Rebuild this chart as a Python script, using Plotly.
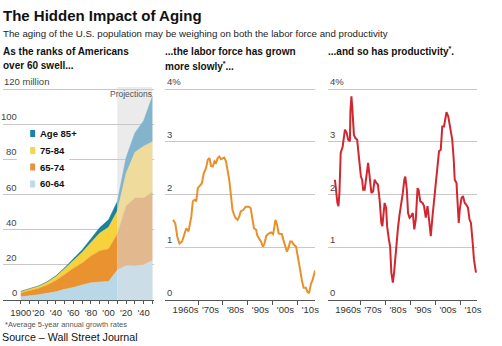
import plotly.graph_objects as go

# ---------------- data ----------------
years_hist = [1900, 1910, 1920, 1930, 1940, 1950, 1960, 1970, 1980, 1990, 2000, 2010]
hist_60_64 = [1.8, 2.3, 3.0, 3.8, 4.7, 6.1, 7.1, 8.6, 9.8, 10.3, 10.5, 17.0]
hist_65_74 = [2.2, 2.8, 3.5, 4.7, 6.4, 8.4, 11.0, 12.4, 15.2, 17.7, 18.5, 20.5]
hist_75_84 = [0.8, 1.0, 1.3, 1.6, 2.3, 3.3, 4.6, 6.1, 7.7, 10.1, 12.4, 13.1]
hist_85p = [0.12, 0.17, 0.21, 0.27, 0.37, 0.58, 0.93, 1.5, 2.2, 3.1, 4.2, 5.5]

years_proj = [2010, 2020, 2030, 2040, 2050]
proj_60_64 = [17.0, 19.5, 19.3, 20.0, 22.5]
proj_65_74 = [20.5, 34.0, 38.7, 38.0, 39.0]
proj_75_84 = [13.1, 18.5, 26.0, 29.5, 28.5]
proj_85p = [5.5, 9.0, 11.0, 14.5, 26.0]

age_groups = ["60-64", "65-74", "75-84", "Age 85+"]

pop_xticks = list(range(1900, 2051, 10))
pop_xlabels = ["1900", "", "'20", "", "'40", "", "'60", "", "'80", "", "'00", "", "'20", "", "'40", ""]
pop_yticks = [0, 20, 40, 60, 80, 100, 120]
pop_ylabels = ["0", "20", "40", "60", "80", "100", "120 million"]

labor_years = [1960.0, 1960.9, 1961.7, 1962.6, 1963.6, 1964.6, 1965.3, 1966.2, 1967.3, 1967.9,
               1968.6, 1969.3, 1969.9, 1970.6, 1971.5, 1972.3, 1973.2, 1973.9, 1974.6, 1975.2,
               1975.9, 1976.6, 1977.2, 1977.9, 1978.5, 1979.2, 1980.5, 1981.2, 1981.8, 1982.5,
               1983.1, 1983.8, 1984.5, 1985.1, 1985.8, 1986.5, 1987.1, 1988.2, 1989.1, 1990.4,
               1991.1, 1991.7, 1992.4, 1993.3, 1993.7, 1994.4, 1995.2, 1996.0, 1996.6, 1997.4,
               1998.3, 1999.3, 2000.1, 2000.6, 2001.0, 2001.7, 2002.3, 2003.0, 2003.6, 2004.2,
               2004.9, 2005.6, 2006.2, 2006.9, 2007.6, 2008.2, 2009.3, 2010.0, 2010.7, 2011.6,
               2012.3, 2013.2, 2013.8, 2014.5, 2015.2, 2015.9, 2016.9]
labor_growth = [1.52, 1.45, 1.20, 1.07, 1.11, 1.26, 1.36, 1.30, 1.58, 1.87,
                1.90, 1.87, 2.12, 2.16, 2.21, 2.40, 2.50, 2.66, 2.69, 2.54,
                2.53, 2.63, 2.60, 2.69, 2.72, 2.67, 2.70, 2.63, 2.47, 2.28,
                2.02, 1.71, 1.61, 1.55, 1.52, 1.58, 1.68, 1.71, 1.77, 1.77,
                1.74, 1.52, 1.36, 1.33, 1.23, 1.17, 1.11, 1.01, 1.07, 1.22,
                1.26, 1.28, 1.25, 1.39, 1.52, 1.42, 1.26, 1.25, 1.25, 1.14,
                1.02, 0.92, 0.98, 1.11, 1.11, 1.06, 1.01, 0.85, 0.63, 0.38,
                0.23, 0.23, 0.16, 0.13, 0.30, 0.38, 0.56]

prod_years = [1959.7, 1960.1, 1960.7, 1961.1, 1961.5, 1962.0, 1962.8, 1963.7, 1964.4, 1965.0,
              1965.7, 1965.9, 1966.3, 1966.7, 1967.3, 1967.9, 1968.6, 1969.0, 1969.7, 1970.1,
              1970.6, 1971.0, 1971.6, 1972.3, 1973.0, 1973.6, 1974.3, 1975.0, 1975.6, 1976.3,
              1976.9, 1977.6, 1978.3, 1978.7, 1979.2, 1979.6, 1980.2, 1980.6, 1981.3, 1981.8,
              1982.3, 1982.9, 1983.4, 1984.2, 1984.9, 1985.5, 1986.2, 1986.9, 1987.5, 1987.9,
              1988.5, 1989.0, 1989.6, 1990.2, 1990.9, 1991.5, 1992.1, 1992.8, 1993.2, 1993.9,
              1994.8, 1995.4, 1996.1, 1996.8, 1997.4, 1998.1, 1998.8, 1999.4, 2000.1, 2000.8,
              2001.4, 2002.1, 2002.7, 2003.4, 2004.0, 2004.4, 2005.1, 2005.7, 2006.7, 2007.3,
              2007.7, 2008.4, 2008.9, 2009.3, 2009.7, 2010.4, 2011.0, 2011.7, 2012.3, 2013.0,
              2013.6, 2014.2, 2014.9, 2015.4, 2016.2]
prod_growth = [2.28, 2.03, 1.84, 1.78, 2.03, 2.79, 2.91, 3.23, 3.17, 3.04,
               3.01, 3.58, 3.86, 3.61, 3.13, 3.07, 3.04, 2.85, 2.57, 2.34,
               2.28, 2.09, 2.09, 2.34, 2.60, 2.34, 2.03, 2.06, 2.28, 2.22,
               2.19, 1.90, 1.46, 1.40, 1.65, 1.84, 1.75, 1.40, 1.15, 1.02,
               0.52, 0.33, 0.52, 1.02, 1.34, 1.59, 1.78, 2.03, 2.28, 2.34,
               2.09, 1.65, 1.56, 1.59, 1.65, 1.34, 1.53, 2.12, 2.09, 1.87,
               1.84, 1.78, 1.56, 1.78, 1.53, 1.21, 1.59, 1.90, 2.22, 2.66,
               2.82, 2.85, 3.29, 3.29, 3.45, 3.56, 3.48, 3.32, 3.04, 2.66,
               2.28, 2.22, 1.90, 1.46, 1.71, 1.93, 1.97, 1.84, 1.81, 1.75,
               1.53, 1.46, 1.08, 0.77, 0.52]

rate_yticks = [0, 1, 2, 3, 4]
rate_ylabels = ["0", "1", "2", "3", "4%"]
decade_ticks = [1970, 1980, 1990, 2000, 2010]
decade_label_pos = [1965, 1975, 1985, 1995, 2005, 2015]
decade_labels = ["1960s", "'70s", "'80s", "'90s", "'00s", "'10s"]

# ---------------- styling / layout helpers ----------------
W, H = 502, 346
FONT = "Liberation Sans, Arial, sans-serif"


def fx(px):
    return px / W


def fy(py):
    return 1 - py / H


hist_colors = {"60-64": "#b8d8e8", "65-74": "#ea922f", "75-84": "#f8d23c", "Age 85+": "#17829f"}
proj_colors = {"60-64": "#cbdde6", "65-74": "#e2b98e", "75-84": "#efdc9c", "Age 85+": "#82b4cd"}
legend_colors = {"60-64": "#bcd9e8", "65-74": "#e8923a", "75-84": "#f5d54a", "Age 85+": "#1f80aa"}

GRID = "#c8c8c8"
AXIS = "#555555"
TICKFONT = dict(family=FONT, size=9.5, color="#333333")
YLABFONT = dict(family=FONT, size=9.5, color="#444444")

ydom = [fy(300), fy(85)]
panel_xranges = {"x": [1879.7, 2052.3], "x2": [1956.9, 2017.0], "x3": [1956.8, 2016.7]}

fig = go.Figure()

hist_series = [hist_60_64, hist_65_74, hist_75_84, hist_85p]
proj_series = [proj_60_64, proj_65_74, proj_75_84, proj_85p]
for name, vals in zip(age_groups, hist_series):
    fig.add_trace(go.Scatter(x=years_hist, y=vals, stackgroup="hist", mode="lines",
                             line=dict(width=0.5, color=hist_colors[name]),
                             fillcolor=hist_colors[name], name=name, showlegend=False,
                             xaxis="x", yaxis="y", hoverinfo="skip"))
for name, vals in zip(age_groups, proj_series):
    fig.add_trace(go.Scatter(x=years_proj, y=vals, stackgroup="proj", mode="lines",
                             line=dict(width=0.5, color=proj_colors[name]),
                             fillcolor=proj_colors[name], name=name, showlegend=False,
                             xaxis="x", yaxis="y", hoverinfo="skip"))

fig.add_trace(go.Scatter(x=labor_years, y=labor_growth, mode="lines",
                         line=dict(color="#e8902a", width=2), showlegend=False,
                         xaxis="x2", yaxis="y2"))
fig.add_trace(go.Scatter(x=prod_years, y=prod_growth, mode="lines",
                         line=dict(color="#d02730", width=2), showlegend=False,
                         xaxis="x3", yaxis="y3"))

common_x = dict(tickmode="array", showline=True, linecolor=AXIS, linewidth=1.2,
                showgrid=False, zeroline=False, tickfont=TICKFONT, tickangle=0,
                fixedrange=True)
common_y = dict(domain=ydom, showgrid=True, gridcolor=GRID, gridwidth=1,
                zeroline=False, showline=False, tickmode="array",
                showticklabels=False, ticks="", fixedrange=True)

fig.update_layout(
    width=W, height=H,
    margin=dict(l=0, r=0, t=0, b=0),
    paper_bgcolor="white", plot_bgcolor="white",
    showlegend=False,
    xaxis=dict(domain=[fx(3), fx(156)], range=panel_xranges["x"],
               tickvals=pop_xticks, ticktext=pop_xlabels,
               ticks="outside", ticklen=3, tickcolor=AXIS, tickwidth=1, **common_x),
    yaxis=dict(range=[0, 122.3], tickvals=pop_yticks[1:], **common_y),
    xaxis2=dict(domain=[fx(167), fx(318.5)], range=panel_xranges["x2"],
                tickvals=decade_label_pos, ticktext=decade_labels, ticks="",
                minor=dict(tickmode="array", tickvals=decade_ticks, ticks="outside",
                           ticklen=4, tickcolor=AXIS, tickwidth=1, showgrid=False),
                anchor="y2", **common_x),
    yaxis2=dict(range=[0, 4.076], anchor="x2", tickvals=rate_yticks[1:], **common_y),
    xaxis3=dict(domain=[fx(331), fx(482)], range=panel_xranges["x3"],
                tickvals=decade_label_pos, ticktext=decade_labels, ticks="",
                minor=dict(tickmode="array", tickvals=decade_ticks, ticks="outside",
                           ticklen=4, tickcolor=AXIS, tickwidth=1, showgrid=False),
                anchor="y3", **common_x),
    yaxis3=dict(range=[0, 4.076], anchor="x3", tickvals=rate_yticks[1:], **common_y),
)

# projections shading
fig.add_shape(type="rect", xref="x", yref="y", x0=years_proj[0], x1=years_proj[-1],
              y0=0, y1=121.2, fillcolor="#ebebeb", line=dict(width=0), layer="below")

# value labels (WSJ style: label sits above its gridline)
panels = [("y", pop_yticks, pop_ylabels, 19, "right"),
          ("y2", rate_yticks, rate_ylabels, 167, "left"),
          ("y3", rate_yticks, rate_ylabels, 331, "left")]
for yr, vals, labs, lx, anch in panels:
    for v, lab in zip(vals, labs):
        if lab.endswith("million"):
            ax, xa = 2, "left"
        else:
            ax, xa = lx, anch
        fig.add_annotation(xref="paper", yref=yr, x=fx(ax), y=v, text=lab, showarrow=False,
                           xanchor=xa, yanchor="bottom", yshift=0, font=YLABFONT)

fig.add_annotation(xref="x", yref="y", x=years_proj[-1], y=121, text="Projections",
                   showarrow=False, xanchor="right", yanchor="top", xshift=2,
                   font=dict(family=FONT, size=8.5, color="#555555"))

# legend (white box, squares, labels)
fig.add_shape(type="rect", xref="paper", yref="paper", x0=fx(17), x1=fx(70),
              y0=fy(192), y1=fy(126), fillcolor="white", line=dict(width=0), layer="above")
legend_rows = [("Age 85+", 133.5), ("75-84", 150.5), ("65-74", 167), ("60-64", 184)]
for name, cy in legend_rows:
    fig.add_shape(type="rect", xref="paper", yref="paper", x0=fx(30.5), x1=fx(35.5),
                  y0=fy(cy + 3.5), y1=fy(cy - 3.5), fillcolor=legend_colors[name],
                  line=dict(width=0), layer="above")
    fig.add_annotation(xref="paper", yref="paper", x=fx(38), y=fy(cy), text="<b>%s</b>" % name,
                       showarrow=False, xanchor="left", yanchor="middle",
                       font=dict(family=FONT, size=9.5, color="#111111"))


def txt(x, y, s, size, color="#111111", bold=False):
    fig.add_annotation(xref="paper", yref="paper", x=fx(x), y=fy(y),
                       text=("<b>%s</b>" % s) if bold else s, showarrow=False,
                       xanchor="left", yanchor="middle",
                       font=dict(family=FONT, size=size, color=color))


txt(1, 16, "The Hidden Impact of Aging", 15, "#111111", True)
txt(1, 33.5, "The aging of the U.S. population may be weighing on both the labor force and productivity",
    9.7, "#222222")
txt(1, 51, "As the ranks of Americans", 10, bold=True)
txt(1, 66, "over 60 swell...", 10, bold=True)
txt(165, 51, "...the labor force has grown", 10, bold=True)
txt(165, 66, "more slowly<sup>*</sup>...", 10, bold=True)
txt(329, 51, "...and so has productivity<sup>*</sup>.", 10, bold=True)
txt(3, 324, "*Average 5-year annual growth rates", 7.5, "#555555")
txt(0, 336.5, "Source \u2013 Wall Street Journal", 10.7, "#111111")

fig.write_html("out.html")
